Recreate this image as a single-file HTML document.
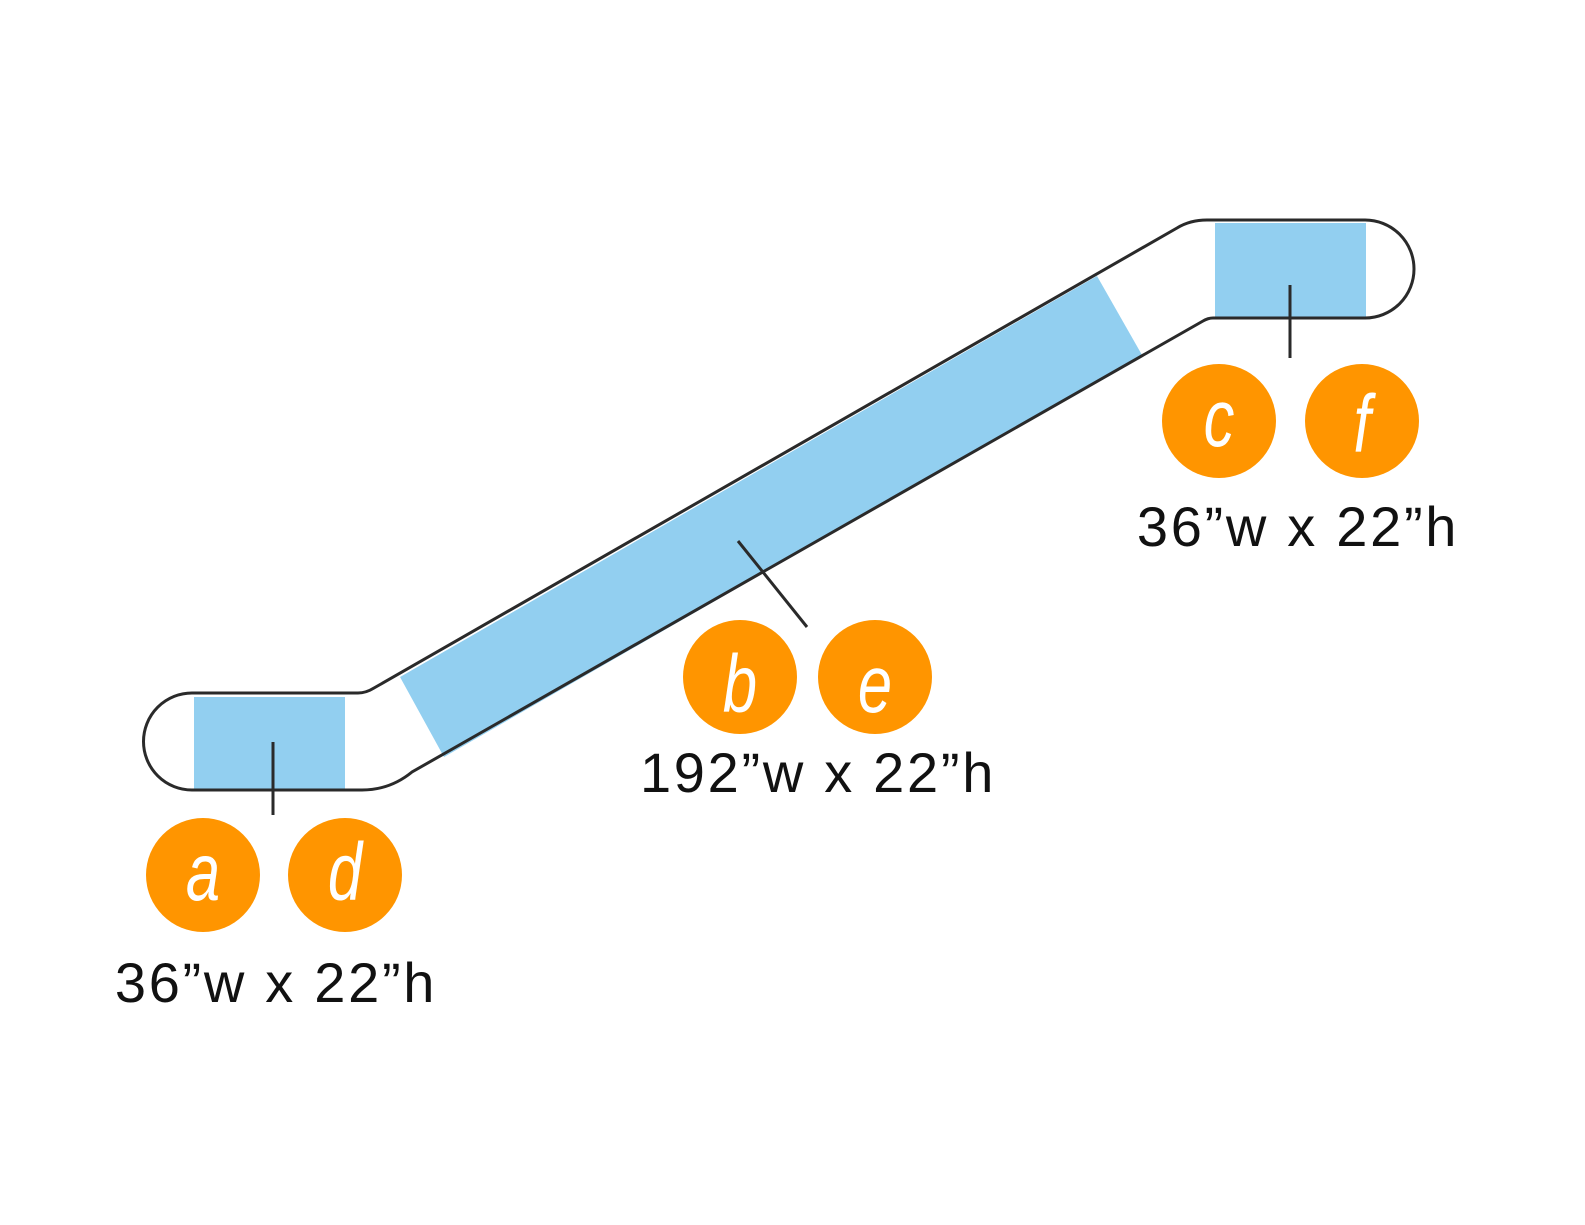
<!DOCTYPE html>
<html><head><meta charset="utf-8"><style>
html,body{margin:0;padding:0;background:#fff;}
svg{display:block;}
.lbl{font-family:"Liberation Sans",sans-serif;font-size:56px;letter-spacing:2.7px;fill:#111;}
.let{font-family:"Liberation Sans",sans-serif;font-style:italic;font-size:82px;fill:#fff;}
</style></head><body>
<svg width="1585" height="1225" viewBox="0 0 1585 1225" xmlns="http://www.w3.org/2000/svg">
<rect width="1585" height="1225" fill="#fff"/>
<rect x="194" y="697" width="151" height="92" fill="#92cff0"/>
<rect x="1215" y="223" width="151" height="94" fill="#92cff0"/>
<polygon points="400,677 1097,276 1142,355 444,757" fill="#92cff0"/>
<path d="M192,693 L358,693 Q366,693 374,688 L1177,228 Q1190,220 1207,220 L1365,220 A49,49 0 0 1 1365,318 L1213,318 Q1208,318 1203,321 L412,772 Q390,790 362,790 L192,790 A48.5,48.5 0 0 1 192,693 Z" fill="none" stroke="#2a2a2a" stroke-width="3"/>
<line x1="273" y1="742" x2="273" y2="815" stroke="#2a2a2a" stroke-width="3"/>
<line x1="1290" y1="285" x2="1290" y2="358" stroke="#2a2a2a" stroke-width="3"/>
<line x1="738" y1="541" x2="807" y2="627" stroke="#2a2a2a" stroke-width="3"/>
<g fill="#ff9500">
<circle cx="203" cy="875" r="57"/><circle cx="345" cy="875" r="57"/>
<circle cx="740" cy="677" r="57"/><circle cx="875" cy="677" r="57"/>
<circle cx="1219" cy="421" r="57"/><circle cx="1362" cy="421" r="57"/>
</g>
<g class="let" text-anchor="middle">
<text x="203" y="900" transform="translate(203 875) scale(0.75 1) translate(-203 -875)">a</text>
<text x="345" y="900" transform="translate(345 875) scale(0.75 1) translate(-345 -875)">d</text>
<text x="740" y="712" transform="translate(740 677) scale(0.75 1) translate(-740 -677)">b</text>
<text x="875" y="712" transform="translate(875 677) scale(0.75 1) translate(-875 -677)">e</text>
<text x="1219" y="446" transform="translate(1219 421) scale(0.75 1) translate(-1219 -421)">c</text>
<text x="1362" y="452" transform="translate(1362 421) scale(0.75 1) translate(-1362 -421)">f</text>
</g>
<g class="lbl" text-anchor="middle">
<text x="276" y="1002">36”w x 22”h</text>
<text x="818" y="792">192”w x 22”h</text>
<text x="1298" y="546">36”w x 22”h</text>
</g>
</svg>
</body></html>
